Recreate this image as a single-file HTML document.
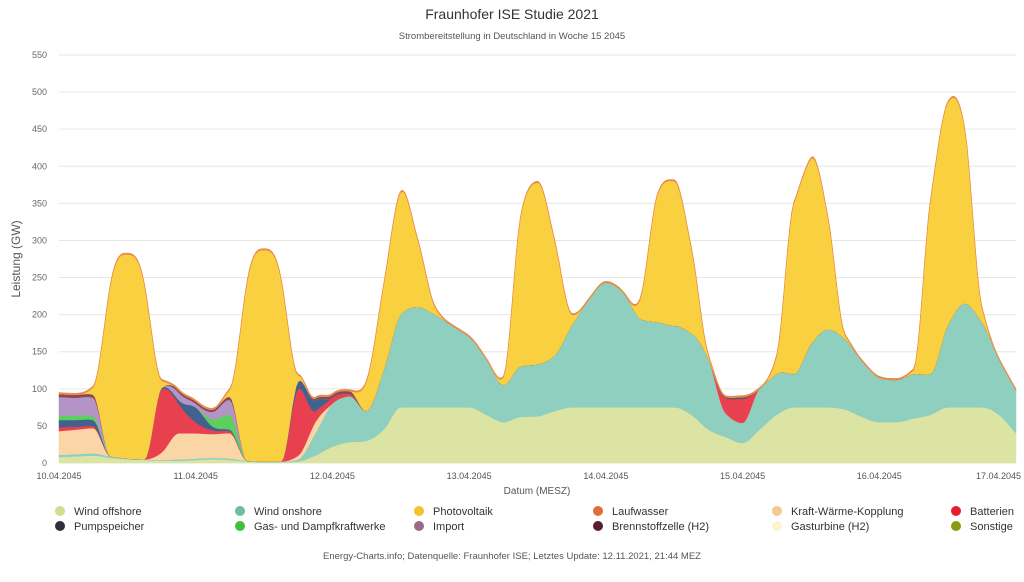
<!DOCTYPE html>
<html><head><meta charset="utf-8">
<style>
body{margin:0;background:#fff;font-family:"Liberation Sans",sans-serif;}
svg text{font-family:"Liberation Sans",sans-serif;}
</style></head>
<body>
<svg id="chart" width="1024" height="577" xmlns="http://www.w3.org/2000/svg">
<text x="512" y="19" text-anchor="middle" font-size="14" fill="#333">Fraunhofer ISE Studie 2021</text>
<text x="512" y="39" text-anchor="middle" font-size="9.5" fill="#555">Strombereitstellung in Deutschland in Woche 15 2045</text>
<text transform="translate(20,259) rotate(-90)" text-anchor="middle" font-size="12" fill="#555">Leistung (GW)</text>
<text x="537" y="494" text-anchor="middle" font-size="10" fill="#555">Datum (MESZ)</text>
<g id="grid"></g><g id="areas"></g><g id="axes"></g><g id="legend"></g>
<text x="512" y="559" text-anchor="middle" font-size="9.5" fill="#555">Energy-Charts.info; Datenquelle: Fraunhofer ISE; Letztes Update: 12.11.2021, 21:44 MEZ</text>
</svg>
<script>
const xTickLabels=["10.04.2045","11.04.2045","12.04.2045","13.04.2045","14.04.2045","15.04.2045","16.04.2045","17.04.2045"];
const yTicks=[0,50,100,150,200,250,300,350,400,450,500,550];
const seriesNames=["Wind offshore","Wind onshore","Kraft-Wärme-Kopplung","Batterien","Pumpspeicher","Gas- und Dampfkraftwerke","Import","Brennstoffzelle (H2)","Photovoltaik","Laufwasser"];
const offshore=[8,9,10,7,5,4,3,3, 4,5,4,2,1,1,2,10, 22,28,30,45,75,75,75,75, 75,65,55,62,63,70,75,75, 75,75,75,75,75,65,45,35, 27,45,65,75,75,75,72,62, 55,55,60,65,75,75,75,65, 40];
const onshore=[3,3,3,2,1,1,1,2, 2,2,2,1,1,1,3,30, 58,62,40,80,125,135,125,110, 95,75,50,68,70,75,110,145, 168,155,120,115,110,110,95,32, 27,55,55,45,85,105,95,75, 60,57,60,55,110,140,115,75, 58];
const kwk=[32,33,34,0,0,0,10,35, 34,32,34,0,0,0,5,15, 0,0,0,0,0,0,0,0, 0,0,0,0,0,0,0,0, 0,0,0,0,0,0,0,0, 0,0,0,0,0,0,0,0, 0,0,0,0,0,0,0,0, 0];
const batterien=[5,4,3,0,0,0,85,40, 15,5,3,0,0,0,90,15, 8,3,0,0,0,0,0,0, 0,0,0,0,0,0,0,0, 0,0,0,0,0,0,0,20, 32,0,0,0,0,0,0,0, 0,0,0,0,0,0,0,0, 0];
const pump=[10,9,8,0,0,0,2,5, 20,5,2,0,0,0,10,15, 0,0,0,0,0,0,0,0, 0,0,0,0,0,0,0,0, 0,0,0,0,0,0,0,0, 0,0,0,0,0,0,0,0, 0,0,0,0,0,0,0,0, 0];
const gas=[6,6,5,0,0,0,0,0, 0,10,20,0,0,0,0,0, 0,0,0,0,0,0,0,0, 0,0,0,0,0,0,0,0, 0,0,0,0,0,0,0,0, 0,0,0,0,0,0,0,0, 0,0,0,0,0,0,0,0, 0];
const importV=[25,24,25,0,0,0,0,10, 5,10,20,0,0,0,0,0, 0,0,0,0,0,0,0,0, 0,0,0,0,0,0,0,0, 0,0,0,0,0,0,0,0, 0,0,0,0,0,0,0,0, 0,0,0,0,0,0,0,0, 0];
const h2=[4,4,4,0,0,0,0,3, 3,3,4,0,0,0,0,2, 4,4,0,0,0,0,0,0, 0,0,0,0,0,0,0,0, 0,0,0,0,0,0,0,2, 3,0,0,0,0,0,0,0, 0,0,0,0,0,0,0,0, 0];
const pv=[0,0,10,230,275,235,10,0, 0,0,10,240,285,245,8,0, 0,0,40,115,165,90,10,0, 0,0,10,200,245,155,15,0, 0,0,25,170,195,115,5,0, 0,0,25,230,250,150,5,0, 0,0,5,235,300,235,20,0, 0];
const laufwasser=[2,2,2,2,2,2,2,2, 2,2,2,2,2,2,2,2, 2,2,2,2,2,2,2,2, 2,2,2,2,2,2,2,2, 2,2,2,2,2,2,2,2, 2,2,2,2,2,2,2,2, 2,2,2,2,2,2,2,2, 2];
const stackSeries=[offshore,onshore,kwk,batterien,pump,gas,importV,h2,pv,laufwasser];
const stackColors=["#dce4a3","#8ecfbf","#fad6a6","#e8404f","#41618f","#5ccf5c","#b494c6","#8a4858","#f9d03f","#e8894a"];
const legendNames=["Wind offshore","Wind onshore","Photovoltaik","Laufwasser","Kraft-Wärme-Kopplung","Batterien","Pumpspeicher","Gas- und Dampfkraftwerke","Import","Brennstoffzelle (H2)","Gasturbine (H2)","Sonstige"];
const legendColors=["#cfdf8f","#6fbf9f","#f4c22a","#e0703a","#f3c98c","#e4202c","#2e2e3c","#3cc23c","#9a6a8a","#5a1e2e","#fcf3cf","#8a9a10"];

const NS="http://www.w3.org/2000/svg";
const X0=59,X1=1016,Y0=463,Y550=55;
const n=offshore.length;
const SUB=8;
const xs=t=>X0+(X1-X0)*t/(n-1);
const ys=v=>Y0-(Y0-Y550)*v/550;
function mk(tag,attrs,parent){const e=document.createElementNS(NS,tag);for(const k in attrs)e.setAttribute(k,attrs[k]);parent.appendChild(e);return e;}
// monotone cubic (Fritsch-Carlson) resampling
function monotone(y){
  const m=y.length,d=[],t=new Array(m);
  for(let i=0;i<m-1;i++)d.push(y[i+1]-y[i]);
  t[0]=d[0];t[m-1]=d[m-2];
  for(let i=1;i<m-1;i++){t[i]=(d[i-1]*d[i]<=0)?0:(d[i-1]+d[i])/2;}
  for(let i=0;i<m-1;i++){
    if(d[i]===0){t[i]=0;t[i+1]=0;continue;}
    const a=t[i]/d[i],b=t[i+1]/d[i],s=a*a+b*b;
    if(s>9){const tau=3/Math.sqrt(s);t[i]=tau*a*d[i];t[i+1]=tau*b*d[i];}
  }
  const out=[];
  for(let i=0;i<m-1;i++){
    for(let k=0;k<SUB;k++){
      const u=k/SUB,h00=2*u*u*u-3*u*u+1,h10=u*u*u-2*u*u+u,h01=-2*u*u*u+3*u*u,h11=u*u*u-u*u;
      out.push(Math.max(0,h00*y[i]+h10*t[i]+h01*y[i+1]+h11*t[i+1]));
    }
  }
  out.push(y[m-1]);
  return out;
}
const grid=document.getElementById('grid'),axes=document.getElementById('axes'),areas=document.getElementById('areas'),legend=document.getElementById('legend');
yTicks.forEach(v=>{
  const l=mk('line',{x1:X0,x2:X1,y1:ys(v),y2:ys(v),stroke:'#e6e6e6','stroke-width':1},grid);
  
  
  const t=mk('text',{x:47,y:ys(v)+3,'text-anchor':'end','font-size':9,fill:'#666'},axes);
  t.textContent=v;
  
  
});
xTickLabels.forEach((lab,i)=>{
  const x=X0+(X1-X0)*i/(xTickLabels.length-1);
  const last=i===xTickLabels.length-1;
  const t=mk('text',{x:last?1021:x,y:479,'text-anchor':last?'end':'middle','font-size':9,fill:'#555'},axes);
  t.textContent=lab;
  
  
});
const N2=(n-1)*SUB+1;
const xf=j=>xs(j/SUB);
let base=new Array(N2).fill(0);
stackSeries.forEach((s,k)=>{
  const fine=monotone(s);
  const top=base.map((b,i)=>b+fine[i]);
  let d='M'+xf(0).toFixed(1)+','+ys(top[0]).toFixed(1);
  for(let i=1;i<N2;i++)d+='L'+xf(i).toFixed(1)+','+ys(top[i]).toFixed(1);
  for(let i=N2-1;i>=0;i--)d+='L'+xf(i).toFixed(1)+','+ys(base[i]).toFixed(1);
  d+='Z';
  const p=mk('path',{d:d,fill:stackColors[k],stroke:stackColors[k],'stroke-width':0.5},areas);
  
  
  base=top;
});
const lx=[60,240,419,598,777,956];
legendNames.forEach((nm,i)=>{
  const g=mk('g',{},legend);
  
  
  const x=lx[i%6],y=i<6?511:526;
  mk('circle',{cx:x,cy:y,r:5,fill:legendColors[i]},g);
  const t=mk('text',{x:x+14,y:y+4,'font-size':11,fill:'#333'},g);
  t.textContent=nm;
});
</script>
</body></html>
